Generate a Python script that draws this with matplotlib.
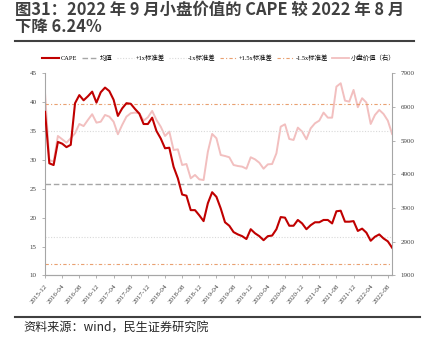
import matplotlib

matplotlib.use("Agg")
import matplotlib.pyplot as plt
from matplotlib.lines import Line2D

plt.rcParams["font.family"] = ["Noto Sans CJK SC", "DejaVu Sans"]

# monthly, 2015-12 .. 2022-09
months = [f"{2015 + (11 + i) // 12}-{(11 + i) % 12 + 1:02d}" for i in range(82)]

cape = [38.3, 29.4, 29.1, 33.1, 32.8, 32.2, 32.6, 39.8, 41.2, 40.3,
        41.0, 41.8, 39.9, 41.7, 42.5, 41.9, 40.4, 37.6, 38.9, 39.8,
        39.7, 38.8, 38.0, 36.2, 36.2, 37.3, 35.0, 33.7, 32.0, 32.1,
        28.8, 26.8, 24.0, 23.8, 21.3, 21.3, 20.4, 19.4, 22.5, 24.4,
        23.6, 21.6, 19.2, 18.6, 17.5, 17.1, 16.8, 16.3, 18.0, 17.3,
        16.8, 16.1, 16.8, 16.9, 18.0, 20.1, 20.0, 18.6, 18.6, 19.6,
        19.0, 18.0, 18.7, 19.2, 19.2, 19.6, 19.6, 19.0, 21.1, 21.2,
        19.3, 19.3, 19.4, 17.7, 18.1, 17.4, 16.0, 16.7, 17.1, 16.4,
        15.9, 14.8]

small_value = [7305, 5324, 5275, 6037, 5939, 5838, 5970, 6117, 6393, 6330,
               6512, 6682, 6432, 6460, 6660, 6610, 6460, 6088, 6364, 6610,
               6711, 6730, 6711, 6492, 6590, 6780, 6512, 6313, 6037, 6166,
               5621, 5640, 5176, 5205, 4781, 4880, 4750, 4730, 5571, 6097,
               5969, 5473, 5443, 5405, 5176, 5146, 5127, 5066, 5405, 5344,
               5244, 5066, 5195, 5205, 5523, 6313, 6383, 5948, 5918, 6284,
               6166, 5939, 6264, 6413, 6492, 6730, 6580, 6580, 7500, 7600,
               7085, 7055, 7403, 6890, 7157, 7027, 6393, 6660, 6809, 6690,
               6492, 6097]

mean_val = 25.8
std_val = 9.2

band_labels = ["均值", "+1x标准差", "-1x标准差", "+1.5x标准差", "-1.5x标准差"]
band_values = [mean_val, mean_val + std_val, mean_val - std_val,
               mean_val + 1.5 * std_val, mean_val - 1.5 * std_val]
band_styles = [("#A6A6A6", (0, (4, 2)), 1.0),
               ("#D9D9D9", (0, (1, 1.5)), 0.8),
               ("#D9D9D9", (0, (1, 1.5)), 0.8),
               ("#E9A070", (0, (3, 2, 1, 2)), 0.8),
               ("#E9A070", (0, (3, 2, 1, 2)), 0.8)]

title_lines = ["图31：2022 年 9 月小盘价值的 CAPE 较 2022 年 8 月", "下降 6.24%"]
source = "资料来源：wind，民生证券研究院"

red = "#C00000"
pink = "#F2BFBF"
axis_gray = "#A6A6A6"

fig = plt.figure(figsize=(4.29, 3.5), dpi=100)
ax = fig.add_axes([0.105, 0.213, 0.809, 0.578])
ax2 = ax.twinx()

x = list(range(len(months)))
ax2.plot(x, small_value, color=pink, lw=1.4, zorder=2)
for val, (col, ls, lw) in zip(band_values, band_styles):
    ax.axhline(val, color=col, ls=ls, lw=lw, zorder=1)
ax.plot(x, cape, color=red, lw=1.5, zorder=3)
ax.set_zorder(ax2.get_zorder() + 1)
ax.patch.set_visible(False)

ax.set_xlim(0, len(months) - 1)
ax.set_ylim(10, 45)
ax.set_yticks(range(10, 46, 5))
ax2.set_ylim(1900, 7900)
ax2.set_yticks(range(1900, 7901, 1000))
tick_idx = list(range(0, len(months), 4))
ax.set_xticks(tick_idx)
ax.set_xticklabels([months[i] for i in tick_idx], rotation=50, ha="right",
                   rotation_mode="anchor")

serif = ["Liberation Serif", "Noto Sans CJK SC"]
for a in (ax, ax2):
    for s in a.spines.values():
        s.set_color(axis_gray)
        s.set_linewidth(0.8)
    a.spines["top"].set_visible(False)
    a.tick_params(colors=axis_gray, labelcolor="#404040", labelsize=5,
                  length=2.5, width=0.6)
    for lab in a.get_xticklabels() + a.get_yticklabels():
        lab.set_family(serif)
ax.spines["right"].set_visible(False)
ax2.spines["left"].set_visible(False)

handles = [Line2D([], [], color=red, lw=1.5)]
for col, ls, lw in band_styles:
    handles.append(Line2D([], [], color=col, ls=ls, lw=lw))
handles.append(Line2D([], [], color=pink, lw=1.3))
labels = ["CAPE"] + band_labels + ["小盘价值（右）"]
fig.legend(handles, labels, loc="center", bbox_to_anchor=(0.51, 0.834), ncol=7,
           frameon=False, prop={"family": serif, "size": 4.6},
           handlelength=2.6, handletextpad=0.3, columnspacing=0.7)

for y, line in zip([0.973, 0.923], title_lines):
    fig.text(0.035, y, line, ha="left", va="center", fontsize=11.8,
             fontweight="bold", color="#404040")
fig.add_artist(Line2D([0.035, 0.965], [0.884, 0.884], color="#404040", lw=1.5,
                      transform=fig.transFigure))
fig.add_artist(Line2D([0.035, 0.98], [0.095, 0.095], color="#404040", lw=1.5,
                      transform=fig.transFigure))
fig.text(0.055, 0.063, source, ha="left", va="center", fontsize=8.7,
         color="#262626")

fig.savefig("out.png", dpi=100)
